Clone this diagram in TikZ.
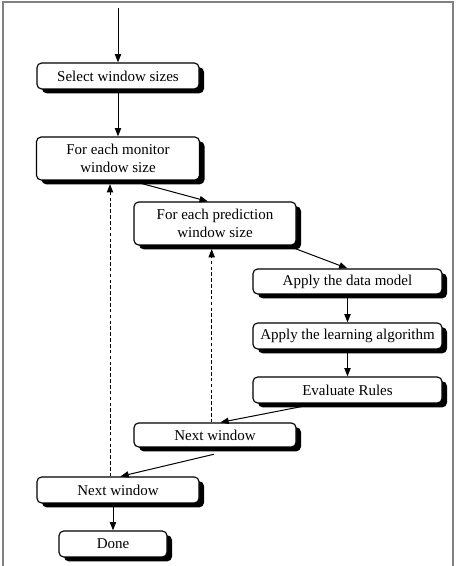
\documentclass[tikz,border=0pt]{standalone}
\usepackage{fontspec}
\setmainfont{Liberation Serif}
\usetikzlibrary{
  arrows.meta,
  shadows
}

\begin{document}
\begin{tikzpicture}[
  stage/.style={draw, line width=1pt, fill=white, rounded corners=4pt, inner sep=0pt,
                align=center, font=\fontsize{12.8}{15.5}\selectfont,
                drop shadow={shadow xshift=0.15cm, shadow yshift=-0.13cm, fill=black, opacity=1}},
  arr/.style={-{Triangle[length=2.5mm, width=1.9mm]}, line width=0.85pt},
  loopback/.style={arr, dash pattern=on 3pt off 2pt, shorten >=3pt}
]
  \useasboundingbox (0,0) rectangle (13.65,16.98);

  % Frame
  \draw[gray, line width=1.2pt] (0.09,0) -- (0.09,16.92) -- (13.59,16.92) -- (13.59,0);

  % Steps
  \coordinate (entry) at (3.54,16.74);
  \node[stage, minimum width=4.86cm, minimum height=0.78cm] (select) at (3.54,14.7) {Select window sizes};
  \node[stage, minimum width=4.89cm, minimum height=1.29cm] (monitor) at (3.54,12.225) {For each monitor\\window size};
  \node[stage, minimum width=4.86cm, minimum height=1.29cm] (predict) at (6.45,10.275) {For each prediction\\window size};
  \node[stage, minimum width=5.67cm, minimum height=0.75cm] (model) at (10.425,8.535) {Apply the data model};
  \node[stage, minimum width=5.67cm, minimum height=0.78cm] (learn) at (10.425,6.9) {Apply the learning algorithm};
  \node[stage, minimum width=5.67cm, minimum height=0.78cm] (rules) at (10.425,5.28) {Evaluate Rules};
  \node[stage, minimum width=4.86cm, minimum height=0.72cm] (nextin) at (6.45,3.93) {Next window};
  \node[stage, minimum width=4.86cm, minimum height=0.78cm] (nextout) at (3.54,2.28) {Next window};
  \node[stage, minimum width=3.24cm, minimum height=0.78cm] (done) at (3.39,0.66) {Done};

  % Flow
  \draw[arr] (entry) -- (select);
  \draw[arr] (select) -- (monitor);
  \draw[arr] (monitor.-60) -- (predict.108);
  \draw[arr] (predict.-17) -- (model.north);
  \draw[arr] (model) -- (learn);
  \draw[arr] (learn) -- (rules);
  \draw[arr] (rules.204) -- (nextin.67);
  \draw[arr] ([yshift=-0.2cm]nextin.-95) -- (nextout.80);
  \draw[arr] (nextout.south -| done.north) -- (done.north);

  % Loops back
  \draw[loopback] ([xshift=-1mm]nextin.north) -- ([xshift=-1mm]predict.south);
  \draw[loopback] ([xshift=-2.4mm]nextout.north) -- ([xshift=-2.4mm]monitor.south);
\end{tikzpicture}
\end{document}
